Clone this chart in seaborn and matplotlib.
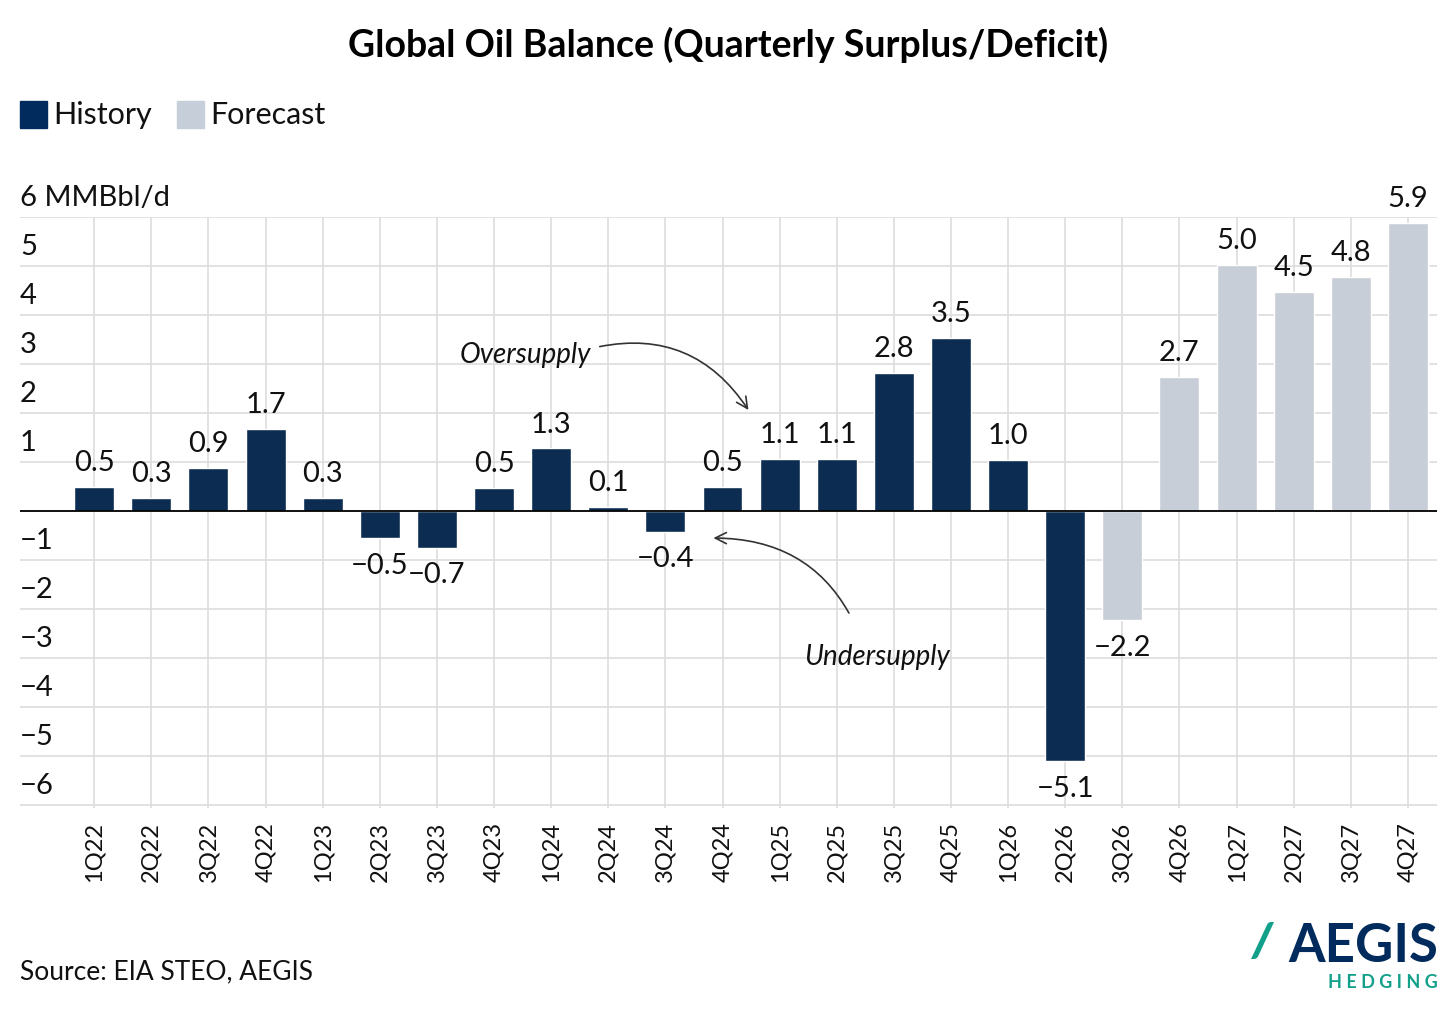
import matplotlib
matplotlib.use("Agg")
import matplotlib.pyplot as plt
import seaborn as sns
import pandas as pd

quarters = ["1Q22", "2Q22", "3Q22", "4Q22", "1Q23", "2Q23", "3Q23", "4Q23", "1Q24", "2Q24",
            "3Q24", "4Q24", "1Q25", "2Q25", "3Q25", "4Q25", "1Q26", "2Q26", "3Q26", "4Q26",
            "1Q27", "2Q27", "3Q27", "4Q27"]
balance = [0.5, 0.3, 0.9, 1.7, 0.3, -0.5, -0.7, 0.5, 1.3, 0.1,
           -0.4, 0.5, 1.1, 1.1, 2.8, 3.5, 1.0, -5.1, -2.2, 2.7,
           5.0, 4.5, 4.8, 5.9]
# bar heights a little different from the rounded labels
heights = [0.5, 0.27, 0.88, 1.67, 0.27, -0.55, -0.75, 0.48, 1.28, 0.08,
           -0.42, 0.5, 1.07, 1.07, 2.82, 3.53, 1.05, -5.1, -2.23, 2.73,
           5.02, 4.47, 4.77, 5.88]
phase = ["History"] * 18 + ["Forecast"] * 6
yticks = [6, 5, 4, 3, 2, 1, -1, -2, -3, -4, -5, -6]

navy = "#002B5C"
grey = "#C5CED9"

df = pd.DataFrame({"q": quarters, "v": heights, "phase": phase})

sns.set_style("white")
plt.rcParams["font.family"] = ["Lato", "DejaVu Sans"]
plt.rcParams["text.color"] = "#111111"

fig = plt.figure(figsize=(14.56, 10.09), dpi=100)
ax = fig.add_axes([20 / 1456, 1 - 808 / 1009, 1417 / 1456, (808 - 217) / 1009])

sns.barplot(data=df, x="q", y="v", hue="phase", palette={"History": navy, "Forecast": grey},
            width=0.7, dodge=False, legend=False, ax=ax, zorder=3)

ax.set_xlim(-1.3, 23.51)
ax.set_ylim(-6.06, 6)
ax.set_yticks(range(-6, 7))
ax.set_xticks(range(len(quarters)))
ax.set_xticklabels(quarters, rotation=90, fontsize=17, color="#111111")
ax.tick_params(axis="x", length=0, pad=10)
ax.tick_params(axis="y", left=False, labelleft=False)
ax.grid(True, color="#DDDDDD", linewidth=1.2, zorder=0)
ax.axhline(0, color="black", linewidth=1.3, zorder=4)
ax.set_xlabel("")
ax.set_ylabel("")
for s in ax.spines.values():
    s.set_visible(False)

for t in yticks:
    lab = "6 MMBbl/d" if t == 6 else str(t).replace("-", "\u2212")
    ax.text(-1.3, t + 0.38, lab, fontsize=21, ha="left", va="center")

for i, (v, h) in enumerate(zip(balance, heights)):
    lab = f"{v:.1f}".replace("-", "\u2212")
    if h >= 0:
        ax.text(i, h + 0.22, lab, ha="center", va="bottom", fontsize=21)
    else:
        ax.text(i, h - 0.3, lab, ha="center", va="top", fontsize=21)

ax.annotate("Oversupply", xy=((748 - 94) / 57.1, (511 - 410) / 49),
            xytext=((525 - 94) / 57.1, (511 - 355) / 49), fontsize=20, style="italic",
            ha="center", va="center",
            arrowprops=dict(arrowstyle="->", color="#333333", lw=1.2,
                            connectionstyle="arc3,rad=-0.35", shrinkA=4, shrinkB=0,
                            relpos=(1.0, 0.75)))
ax.annotate("Undersupply", xy=((713 - 94) / 57.1, (511 - 538) / 49),
            xytext=((877 - 94) / 57.1, (511 - 657) / 49), fontsize=20, style="italic",
            ha="center", va="center",
            arrowprops=dict(arrowstyle="->", color="#333333", lw=1.2,
                            connectionstyle="arc3,rad=0.35", shrinkA=22, shrinkB=0,
                            relpos=(0.4, 1.0)))

fig.text(0.5, 1 - 45 / 1009, "Global Oil Balance (Quarterly Surplus/Deficit)",
         ha="center", va="center", fontsize=27, fontweight="bold", color="black")

# legend
fig.patches.append(plt.Rectangle((20 / 1456, 1 - 128 / 1009), 27 / 1456, 27 / 1009,
                                 color=navy, transform=fig.transFigure))
fig.text(53 / 1456, 1 - 115 / 1009, "History", fontsize=22, va="center")
fig.patches.append(plt.Rectangle((177 / 1456, 1 - 128 / 1009), 27 / 1456, 27 / 1009,
                                 color=grey, transform=fig.transFigure))
fig.text(210 / 1456, 1 - 115 / 1009, "Forecast", fontsize=22, va="center")

fig.text(20 / 1456, 1 - 972 / 1009, "Source: EIA STEO, AEGIS", fontsize=19, va="center")
fig.text(1438 / 1456, 1 - 946 / 1009, "AEGIS", fontsize=38, fontweight="bold",
         color=navy, ha="right", va="center")
fig.text(1438 / 1456, 1 - 982 / 1009, "H E D G I N G", fontsize=13, fontweight="bold",
         color="#12A08A", ha="right", va="center")
fig.text(1262 / 1456, 1 - 943 / 1009, "/", fontsize=34, fontweight="heavy",
         color="#12A08A", ha="center", va="center", style="italic")

fig.savefig("out.png", dpi=100)
